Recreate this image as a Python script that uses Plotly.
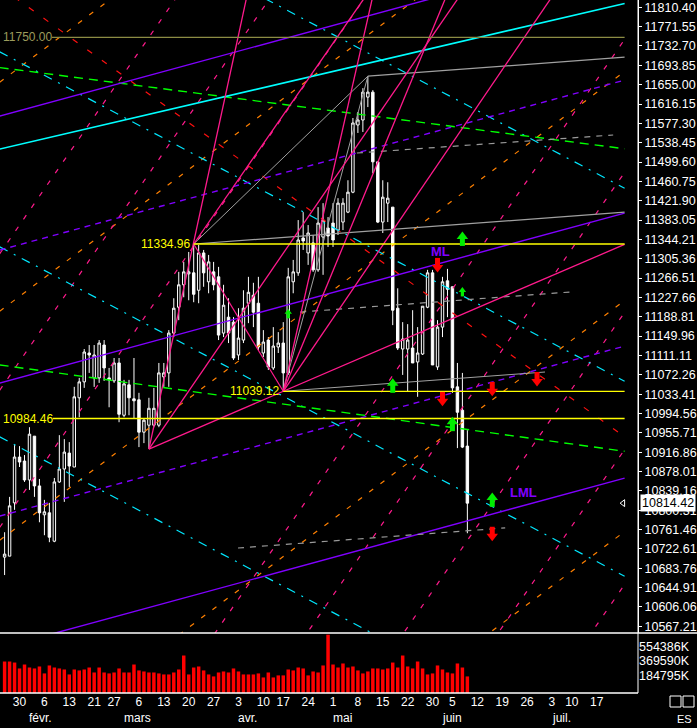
import pandas as pd
import plotly.graph_objects as go

# ---------------- DATA ----------------
calendar_start = "2006-01-25"
calendar_end = "2006-07-31"
market_holidays = ["2006-02-20", "2006-04-14", "2006-05-29", "2006-07-04"]

open_ = [10706, 10708, 10815, 10907, 10899, 10861, 10949, 10849, 10791, 10795,
         10738, 10857, 10883, 10915, 10887, 11026, 11058, 11116, 11066, 11066,
         11132, 11066, 11060, 11096, 10991, 11052, 11024, 11022, 10957, 10971,
         10971, 10971, 11068, 11076, 11156, 11208, 11253, 11275, 11277, 11242,
         11317, 11259, 11279, 11269, 11156, 11188, 11178, 11112, 11142, 11216,
         11232, 11216, 11116, 11142, 11086, 11128, 11136, 11076, 11259, 11277,
         11347, 11317, 11337, 11283, 11349, 11367, 11377, 11363, 11379, 11399,
         11439, 11574, 11584, 11630, 11640, 11500, 11379, 11417, 11409, 11206,
         11124, 11124, 11126, 11098, 11114, 11208, 11277, 11088, 11168, 11261,
         11249, 11048, 11001, 10929]
high = [10756, 10827, 10931, 10929, 10911, 10967, 10949, 10863, 10821, 10815,
        10865, 10951, 10943, 10937, 11048, 11066, 11124, 11132, 11132, 11142,
        11142, 11086, 11106, 11106, 11062, 11062, 11106, 11036, 10985, 11026,
        11046, 11096, 11096, 11162, 11226, 11279, 11299, 11319, 11334.96, 11333,
        11323, 11313, 11299, 11289, 11253, 11226, 11188, 11206, 11242, 11269,
        11257, 11269, 11162, 11148, 11168, 11158, 11178, 11287, 11303, 11383,
        11399, 11373, 11353, 11409, 11417, 11389, 11417, 11427, 11427, 11463,
        11588, 11600, 11648, 11672, 11644, 11500, 11463, 11459, 11409, 11246,
        11178, 11174, 11202, 11168, 11210, 11283, 11283, 11182, 11269, 11285,
        11249, 11096, 11076, 10961]
low = [10670, 10708, 10801, 10887, 10857, 10841, 10827, 10776, 10750, 10736,
       10736, 10855, 10817, 10847, 10887, 10987, 11046, 11076, 11048, 11056,
       11060, 11007, 11056, 10977, 10987, 10991, 10985, 10927, 10935, 10923,
       10967, 10967, 11048, 11048, 11148, 11182, 11228, 11222, 11218, 11216,
       11249, 11236, 11242, 11142, 11148, 11136, 11102, 11102, 11136, 11176,
       11168, 11122, 11108, 11082, 11082, 11116, 11039.12, 11072, 11236, 11271,
       11323, 11293, 11279, 11279, 11273, 11329, 11329, 11353, 11363, 11397,
       11437, 11558, 11560, 11610, 11477, 11377, 11357, 11379, 11172, 11122,
       11072, 11038, 11096, 11028, 11112, 11206, 11092, 11082, 11148, 11188,
       11036, 10925, 10925, 10754]
close = [10712, 10809, 10907, 10897, 10861, 10953, 10849, 10795, 10797, 10746,
         10857, 10883, 10917, 10889, 11028, 11058, 11118, 11112, 11112, 11136,
         11086, 11062, 11096, 10993, 11054, 11026, 11020, 10957, 10981, 11005,
         11005, 11076, 11076, 11156, 11206, 11253, 11279, 11279, 11234, 11317,
         11277, 11299, 11253, 11152, 11212, 11156, 11106, 11146, 11206, 11238,
         11198, 11128, 11138, 11088, 11130, 11136, 11076, 11269, 11279, 11343,
         11341, 11357, 11283, 11377, 11383, 11351, 11343, 11417, 11417, 11439,
         11578, 11584, 11640, 11640, 11500, 11379, 11429, 11427, 11202, 11126,
         11144, 11142, 11096, 11116, 11210, 11277, 11092, 11168, 11259, 11244,
         11046, 10997, 10927, 10814.42]
volume_k = [399000, 399000, 386000, 311000, 361000, 323000, 311000, 336000, 248000, 349000,
            323000, 311000, 298000, 235000, 298000, 286000, 298000, 323000, 260000, 323000,
            260000, 248000, 260000, 311000, 260000, 260000, 361000, 286000, 273000, 260000,
            260000, 248000, 235000, 235000, 260000, 298000, 475000, 235000, 323000, 336000,
            286000, 235000, 210000, 260000, 273000, 260000, 311000, 273000, 235000, 235000,
            235000, 248000, 197000, 260000, 197000, 223000, 223000, 298000, 286000, 323000,
            311000, 223000, 273000, 260000, 349000, 739000, 361000, 323000, 374000, 323000,
            336000, 286000, 248000, 273000, 311000, 311000, 298000, 311000, 386000, 323000,
            475000, 336000, 311000, 399000, 311000, 235000, 248000, 349000, 298000, 260000,
            248000, 374000, 323000, 210000]

price_ticks = [11810.40, 11771.55, 11732.70, 11693.85, 11655.00, 11616.15, 11577.30,
               11538.45, 11499.60, 11460.75, 11421.90, 11383.05, 11344.21, 11305.36,
               11266.51, 11227.66, 11188.81, 11149.96, 11111.11, 11072.26, 11033.41,
               10994.56, 10955.71, 10916.86, 10878.01, 10839.16, 10800.31, 10761.46,
               10722.61, 10683.76, 10644.91, 10606.06, 10567.21]
volume_ticks = [184795, 369590, 554386]

week_dates = ["2006-01-30", "2006-02-06", "2006-02-13", "2006-02-21", "2006-02-27",
              "2006-03-06", "2006-03-13", "2006-03-20", "2006-03-27", "2006-04-03",
              "2006-04-10", "2006-04-17", "2006-04-24", "2006-05-01", "2006-05-08",
              "2006-05-15", "2006-05-22", "2006-05-30", "2006-06-05", "2006-06-12",
              "2006-06-19", "2006-06-26", "2006-07-03", "2006-07-10", "2006-07-17"]
month_starts = ["2006-02-01", "2006-03-01", "2006-04-03", "2006-05-01", "2006-06-01", "2006-07-03"]
month_names = ["févr.", "mars", "avr.", "mai", "juin", "juil."]

# horizontal levels: (start position in trading days, price)
yellow_levels = [(38, 11334.96), (56, 11039.12), (9.7, 10984.46)]
olive_level = (9.5, 11750.00)

# drawn lines, anchors as (trading-day position, price, trading-day position, price)
gray_segments = [(38, 11334.96, 73, 11672), (56, 11039.12, 73, 11672),
                 (56, 11039.12, 108.6, 11077.8)]
gray_rays = [(73, 11672, 125.1, 11710.6), (38, 11334.96, 125.1, 11399.2)]
gray_dashed = [(59.4, 11198.3, 113.6, 11238.5), (70.8, 11517.7, 122.3, 11553.9),
               (46.9, 10724.3, 100.6, 10764.7)]
purple_solid = [(0, 11594.6, 126, 11937.1), (0, 11058.2, 126, 11400.8), (0, 10525.9, 126, 10868.5)]
purple_dashed = [(0, 11325.4, 126, 11668.0), (0, 10791.1, 126, 11133.7)]
cyan_solid = [(0, 11527.9, 126, 11821.4)]
cyan_dashdot = [(40, 11892.8, 126, 11439.6), (0, 11715.8, 126, 11051.9),
                (0, 11324.1, 126, 10660.2), (0, 10942.4, 80, 10521.0)]
green_dashed = [(0, 11688.1, 126, 11524.4), (0, 11090.7, 126, 10916.7)]
orange_dashed = [(0, 11667.3, 25, 11854.7), (0, 11207.3, 90, 11881.9), (0, 10747.3, 126, 11691.9),
                 (30, 10512.2, 126, 11231.9), (90, 10497.9, 126, 10767.9)]
pink_rays = [(29, 10923, 50.7, 11925.5), (29, 10923, 97.8, 11925.5), (29, 10923, 56, 11039.12),
             (38, 11334.96, 79.0, 11925.5), (56, 11039.12, 76.1, 11925.5),
             (56, 11039.12, 92.6, 11925.5), (56, 11039.12, 116.4, 11925.5)]
pink_segments = [(38, 11334.96, 56, 11039.12)]
pink_dashed = [(41.1, 11925.5, -62.8, 10419.0), (60.0, 11925.5, -43.9, 10419.0),
               (79.0, 11925.5, -24.9, 10419.0), (137.0, 11925.5, 33.0, 10419.0),
               (155.4, 11925.5, 51.5, 10419.0), (174.8, 11925.5, 70.9, 10419.0),
               (193.8, 11925.5, 89.9, 10419.0), (212.5, 11925.5, 108.6, 10419.0)]
red_dashed = [(-11.2, 11925.5, 127.9, 10924.1)]

arrow_up_pos = [92, 78, 90, 98]
arrow_up_price = [11347, 11052, 10975, 10823]
small_up_pos = [92, 57]
small_up_price = [11240, 11196]
arrow_down_pos = [87, 88, 98, 107, 98]
arrow_down_price = [11291, 11022, 11042, 11062, 10751]

ml_label = (87.5, 11319, "ML")
lml_label = (104.2, 10835, "LML")

# ---------------- BUILD ----------------
days = pd.bdate_range(calendar_start, calendar_end)
days = days[~days.isin(pd.to_datetime(market_holidays))]
pos_of = {d.strftime("%Y-%m-%d"): i for i, d in enumerate(days)}
bar_x = list(range(len(close)))

X_RANGE = [-0.925, 127.29]
Y_RANGE = [10553.6, 11825.06]
X_LO, X_HI = -1.0, 124.6
PLOT_H = 693
PRICE_PX = 633
ppx = (Y_RANGE[1] - Y_RANGE[0]) / PRICE_PX
FONT = "Liberation Sans, Arial, sans-serif"


def build(segs, mode):
    xs, ys = [], []
    for x0, p0, x1, p1 in segs:
        k = (p1 - p0) / (x1 - x0)
        if mode == "line":
            xa, xb = X_LO, X_HI
        elif mode == "ray":
            xa, xb = x0, X_HI
        else:
            xa, xb = x0, x1
        xs += [xa, xb, None]
        ys += [p0 + k * (xa - x0), p0 + k * (xb - x0), None]
    return xs, ys


def line_trace(segs, mode, color, width=1, dash="solid"):
    xs, ys = build(segs, mode)
    return go.Scatter(x=xs, y=ys, mode="lines", line=dict(color=color, width=width, dash=dash),
                      hoverinfo="skip", xaxis="x", yaxis="y")


fig = go.Figure()

fig.add_trace(go.Bar(x=bar_x, y=volume_k, marker=dict(color="#ff0000", line=dict(width=0)),
                     xaxis="x", yaxis="y2", hoverinfo="skip"))

fig.add_trace(go.Candlestick(
    x=bar_x, open=open_, high=high, low=low, close=close,
    increasing=dict(line=dict(color="white", width=1), fillcolor="black"),
    decreasing=dict(line=dict(color="white", width=1), fillcolor="white"),
    whiskerwidth=0, xaxis="x", yaxis="y", hoverinfo="skip"))

# lines
fig.add_trace(line_trace(orange_dashed, "line", "#ff8000", 1.2, "5px,9px"))
fig.add_trace(line_trace(pink_dashed, "line", "#ff1a8c", 1.2, "5px,9px"))
fig.add_trace(line_trace(red_dashed, "line", "#ff1010", 1.2, "6px,12px"))
fig.add_trace(line_trace(cyan_dashdot, "line", "#00e8ff", 1.2, "9px,7px,2px,7px"))
fig.add_trace(line_trace(green_dashed, "line", "#00ff00", 1.4, "9px,6px"))
fig.add_trace(line_trace(purple_dashed, "line", "#8000ff", 1.4, "6px,5px"))
fig.add_trace(line_trace(purple_solid, "line", "#8000ff", 1.4))
fig.add_trace(line_trace(cyan_solid, "line", "#00ffff", 1.6))
fig.add_trace(line_trace(gray_dashed, "seg", "#9a9a9a", 1.2, "6px,6px"))
fig.add_trace(line_trace(gray_segments, "seg", "#a0a0a0", 1))
fig.add_trace(line_trace(gray_rays, "ray", "#a0a0a0", 1.2))
fig.add_trace(line_trace(pink_rays, "ray", "#ff1a8c", 1.3))
fig.add_trace(line_trace(pink_segments, "seg", "#ff1a8c", 1.2))

yl = [(x0, p, X_HI, p) for x0, p in yellow_levels]
fig.add_trace(line_trace(yl, "seg", "#ffff00", 1.3))
fig.add_trace(line_trace([(olive_level[0], olive_level[1], X_HI, olive_level[1])], "seg", "#8c8c44", 1.3))

# arrows
def arrow(pos, price, up, color, scale=1.0):
    s = 1 if up else -1
    head = go.Scatter(x=pos, y=[p + s * 1.5 * scale * ppx for p in price], mode="markers",
                      marker=dict(symbol="triangle-up" if up else "triangle-down", size=10 * scale,
                                  color=color, line=dict(width=0)),
                      hoverinfo="skip", xaxis="x", yaxis="y")
    stem = go.Scatter(x=pos, y=[p - s * 3.4 * scale * ppx for p in price], mode="markers",
                      marker=dict(symbol="line-ns", size=6.5 * scale,
                                  line=dict(color=color, width=5 * scale)),
                      hoverinfo="skip", xaxis="x", yaxis="y")
    return [head, stem]

for t in arrow(arrow_up_pos, arrow_up_price, True, "#00ee00"):
    fig.add_trace(t)
for t in arrow(small_up_pos, small_up_price, True, "#00ee00", 0.65):
    fig.add_trace(t)
for t in arrow(arrow_down_pos, arrow_down_price, False, "#ff0000"):
    fig.add_trace(t)

# last price pointer
fig.add_trace(go.Scatter(x=[124.3], y=[close[-1]], mode="markers",
                         marker=dict(symbol="triangle-left-open", size=6, color="white",
                                     line=dict(color="white", width=1)),
                         hoverinfo="skip", xaxis="x", yaxis="y"))

annotations = []
for x0, p in yellow_levels[:2]:
    annotations.append(dict(x=x0, y=p, xref="x", yref="y", text=f"{p:.2f}", showarrow=False,
                            xanchor="right", yanchor="middle", xshift=-2,
                            font=dict(color="#ffff00", size=12, family=FONT)))
annotations.append(dict(x=0, y=yellow_levels[2][1], xref="paper", yref="y",
                        text=f"{yellow_levels[2][1]:.2f}", showarrow=False, xanchor="left",
                        yanchor="middle", xshift=1, font=dict(color="#ffff00", size=12, family=FONT)))
annotations.append(dict(x=0, y=olive_level[1], xref="paper", yref="y",
                        text=f"{olive_level[1]:.2f}", showarrow=False, xanchor="left",
                        yanchor="middle", xshift=1, font=dict(color="#9c9c5c", size=12, family=FONT)))
for x0, p, txt in [ml_label, lml_label]:
    annotations.append(dict(x=x0, y=p, xref="x", yref="y", text=f"<b>{txt}</b>", showarrow=False,
                            xanchor="center", yanchor="middle",
                            font=dict(color="#8000ff", size=13, family=FONT)))
# last price box
annotations.append(dict(x=1, y=close[-1], xref="paper", yref="y", text=f"{close[-1]:.2f}",
                        showarrow=False, xanchor="left", yanchor="middle", xshift=2,
                        bgcolor="white", borderpad=1,
                        font=dict(color="black", size=12.5, family=FONT)))
# month names
for d, name in zip(month_starts, month_names):
    annotations.append(dict(x=pos_of[d], y=0, xref="x", yref="paper", text=name, showarrow=False,
                            xanchor="left", yanchor="top", yshift=-16, xshift=-2,
                            font=dict(color="white", size=12, family=FONT)))
annotations.append(dict(x=694 / 638, y=0, xref="paper", yref="paper", text="ES", showarrow=False,
                        xanchor="right", yanchor="top", yshift=-18,
                        font=dict(color="white", size=11, family=FONT)))

vol_dom_top = (PLOT_H - PRICE_PX - 1) / PLOT_H
price_dom_bot = (PLOT_H - PRICE_PX) / PLOT_H
shapes = [
    dict(type="line", xref="paper", yref="paper", x0=0, x1=697 / 638, y0=price_dom_bot, y1=price_dom_bot,
         line=dict(color="white", width=1.5)),
    dict(type="line", xref="paper", yref="paper", x0=1, x1=1, y0=0, y1=1,
         line=dict(color="white", width=1)),
    dict(type="line", xref="paper", yref="paper", x0=0, x1=1, y0=0, y1=0,
         line=dict(color="white", width=1.5)),
    dict(type="rect", xref="paper", yref="paper", x0=670 / 638, x1=681 / 638, y0=-14 / PLOT_H, y1=-3 / PLOT_H,
         line=dict(color="white", width=1)),
    dict(type="rect", xref="paper", yref="paper", x0=683 / 638, x1=694 / 638, y0=-14 / PLOT_H, y1=-3 / PLOT_H,
         line=dict(color="white", width=1)),
]

fig.update_layout(
    width=697, height=728, margin=dict(l=0, r=59, t=0, b=35, autoexpand=False),
    paper_bgcolor="black", plot_bgcolor="black", showlegend=False, bargap=0.3,
    xaxis=dict(domain=[0, 1], range=X_RANGE, anchor="y2", showgrid=False, zeroline=False,
               showline=False, ticks="", tickvals=[pos_of[d] for d in week_dates],
               ticktext=[str(int(d[-2:])) for d in week_dates], automargin=False,
               tickfont=dict(color="white", size=12, family=FONT),
               rangeslider=dict(visible=False), fixedrange=True),
    yaxis=dict(domain=[price_dom_bot, 1], range=Y_RANGE, anchor="x", side="right",
               showgrid=False, zeroline=False, showline=True, linecolor="white", linewidth=1,
               ticks="outside", ticklen=3, tickcolor="white", tickvals=price_ticks,
               ticktext=[f"{v:.2f}" for v in price_ticks], automargin=False,
               tickfont=dict(color="white", size=12.5, family=FONT)),
    yaxis2=dict(domain=[0, vol_dom_top], range=[0, 747600], anchor="x", side="right",
                showgrid=False, zeroline=False, showline=False, ticks="", tickvals=volume_ticks,
                ticktext=[f"{v}K" for v in volume_ticks], automargin=False, ticklabelshift=-3,
                tickfont=dict(color="white", size=12.5, family=FONT)),
    annotations=annotations, shapes=shapes,
)

fig.write_html("out.html", config={"displayModeBar": False},
               post_script="document.body.style.margin='0px';document.body.style.overflow='hidden';")
